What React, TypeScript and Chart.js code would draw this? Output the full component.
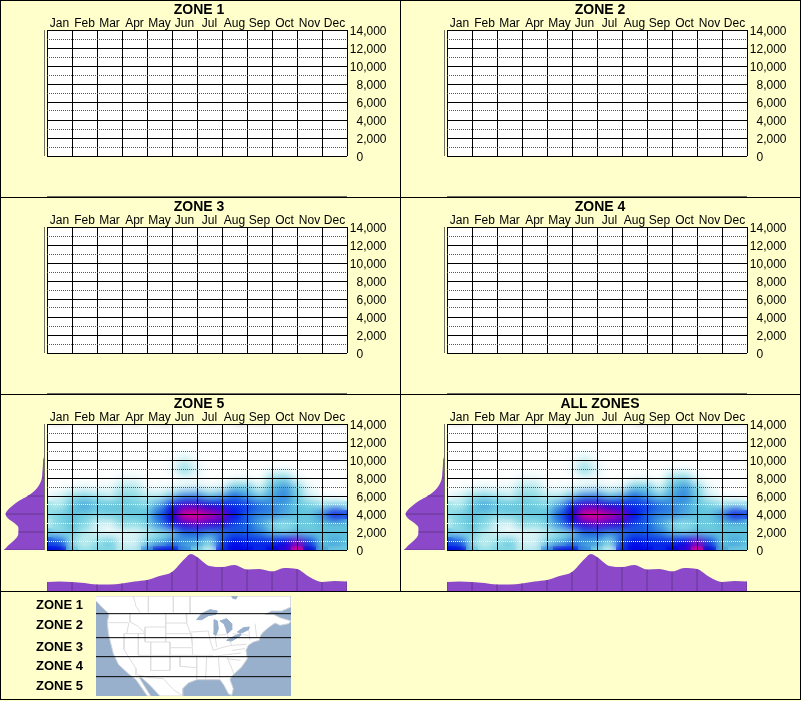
import React, { useEffect, useRef } from "react";
import { Chart, registerables } from "chart.js";

Chart.register(...registerables);

const months = ["Jan", "Feb", "Mar", "Apr", "May", "Jun", "Jul", "Aug", "Sep", "Oct", "Nov", "Dec"];
const zoneTitles = ["ZONE 1", "ZONE 2", "ZONE 3", "ZONE 4", "ZONE 5", "ALL ZONES"];
const mapLabels = ["ZONE 1", "ZONE 2", "ZONE 3", "ZONE 4", "ZONE 5"];
const elevationTicks = [0, 2000, 4000, 6000, 8000, 10000, 12000, 14000];

// density at half-month nodes (Jan 1 .. Dec 31), one row per 1000 ft
const d0 = [.68, .72, .35, .2, .25, .25, .15, .15, .45, .72, .68, .45, .25, .12, .6, .7, .68, .6, .72, .8, 1.2, .75, .4, .3, .3];
const d1000 = [.55, .5, .2, .12, .2, .3, .1, .1, .25, .35, .45, .4, .4, .25, .55, .65, .6, .6, .6, .65, .85, .55, .35, .4, .35];
const d2000 = [.3, .2, .3, .15, .08, .03, .06, .08, .12, .2, .25, .5, .5, .45, .45, .5, .5, .45, .35, .28, .35, .3, .35, .35, .35];
const d3000 = [.12, .25, .35, .25, .1, .08, .25, .2, .3, .45, .65, .8, .85, .8, .78, .55, .5, .4, .25, .2, .3, .3, .35, .35, .35];
const d4000 = [.2, .3, .35, .3, .25, .3, .3, .35, .35, .52, .76, 1.2, 1.25, 1.02, .9, .65, .5, .45, .45, .4, .35, .35, .45, .68, .55];
const d5000 = [.2, .15, .35, .4, .35, .35, .35, .3, .25, .4, .62, .8, .8, .75, .64, .58, .58, .5, .45, .4, .35, .3, .2, .25, .2];
const d6000 = [.03, .1, .2, .25, .18, .12, .25, .22, .15, .15, .3, .45, .45, .35, .4, .5, .4, .3, .4, .45, .3, .1, .03, 0, 0];
const d7000 = [0, 0, .03, .05, .03, .05, .15, .15, .03, .02, .05, .08, .1, .05, .08, .3, .3, .1, .35, .42, .25, .05, 0, 0, 0];
const d8000 = [0, 0, 0, 0, 0, 0, .05, .05, 0, 0, 0, .03, .02, 0, 0, .03, .03, 0, .2, .25, .05, 0, 0, 0, 0];
const d9000 = [0, 0, 0, 0, 0, 0, 0, 0, 0, 0, .05, .22, .08, 0, 0, 0, 0, 0, .03, .03, 0, 0, 0, 0, 0];
const d10000 = [0, 0, 0, 0, 0, 0, 0, 0, 0, 0, .02, .1, .02, 0, 0, 0, 0, 0, 0, 0, 0, 0, 0, 0, 0];
const densityRows = [d0, d1000, d2000, d3000, d4000, d5000, d6000, d7000, d8000, d9000, d10000];

// marginal distributions
const elevationSteps = [0, 500, 1000, 1500, 2000, 2500, 3000, 3500, 4000, 4500, 5000, 5500, 6000, 6500, 7000, 7500, 8000, 8500, 9000, 9500, 10000, 10500, 11000, 11500, 12000, 14000];
const elevationTotals = [40, 36, 31, 27, 26, 26, 30, 36, 38.5, 36, 31, 25, 17, 11, 7, 4.5, 3, 2.7, 2.3, 2, 1.7, .7, .2, 0, 0, 0];
const monthSteps = [0, .5, 1, 1.5, 2, 2.5, 3, 3.5, 4, 4.5, 5, 5.5, 5.75, 6, 6.5, 7, 7.5, 8, 8.5, 9, 9.5, 10, 10.5, 11, 11.5, 12];
const monthTotals = [9, 9.5, 9, 8, 6.5, 6.5, 7.5, 9.5, 11, 15, 19, 32, 37, 34, 25, 24, 26, 21.5, 22, 19.5, 23, 22, 14, 9, 10, 9.5];

// map outlines, in map units
const landX = [288, 873, 873, 845, 815, 795, 820, 840, 873, 866, 840, 825, 805, 790, 782, 778, 760, 745, 738, 742, 725, 695, 690, 700, 695, 685, 672, 660, 625, 590, 565, 548, 548, 480, 450, 425, 418, 435, 452, 442, 408, 385, 355, 340, 325, 322, 327, 305, 288];
const landY = [17, 17, 50, 62, 62, 72, 72, 82, 92, 100, 105, 98, 112, 125, 135, 150, 155, 165, 180, 205, 230, 258, 268, 295, 315, 310, 285, 268, 268, 268, 278, 295, 317, 317, 285, 262, 262, 290, 317, 317, 268, 250, 222, 190, 130, 95, 70, 50, 32];
const lakes: [number, number][][] = [
  [[590, 88], [605, 70], [630, 58], [652, 62], [648, 72], [625, 76], [605, 88]],
  [[642, 88], [652, 92], [655, 115], [648, 135], [640, 130], [642, 108]],
  [[660, 92], [680, 85], [695, 100], [695, 118], [682, 130], [678, 115], [672, 100]],
  [[680, 150], [705, 136], [722, 130], [720, 137], [695, 152]],
  [[712, 125], [730, 112], [748, 110], [745, 118], [725, 128]],
  [[695, 17], [712, 17], [708, 26], [698, 24]],
];
const borders: [number, number][][] = [
  [[400, 17], [408, 48], [420, 66]], [[445, 17], [445, 66]], [[520, 17], [520, 66]], [[570, 17], [570, 68]],
  [[325, 97], [385, 97]], [[390, 68], [390, 95], [415, 108], [435, 130]], [[387, 97], [380, 130]],
  [[497, 68], [497, 155]], [[497, 98], [560, 98]], [[497, 130], [575, 130]], [[558, 68], [560, 98], [572, 130], [578, 165]],
  [[435, 110], [497, 110]], [[435, 110], [435, 155]], [[435, 155], [510, 155]], [[452, 155], [452, 240]], [[510, 155], [510, 240]],
  [[372, 130], [435, 130]], [[372, 130], [372, 178], [408, 235], [408, 250]], [[415, 130], [415, 195]], [[415, 195], [510, 195]],
  [[510, 172], [575, 172]], [[575, 130], [578, 195]], [[510, 195], [640, 195]], [[540, 195], [540, 228], [590, 232]], [[590, 195], [590, 268]],
  [[405, 252], [450, 262], [490, 265], [520, 298], [547, 316]], [[452, 240], [510, 240]],
  [[572, 125], [625, 122]], [[625, 122], [630, 150], [640, 180]], [[645, 135], [650, 170]], [[650, 135], [680, 132]], [[682, 135], [695, 165], [665, 172], [640, 180]],
  [[625, 200], [722, 188]], [[620, 200], [617, 265]], [[655, 198], [660, 262]], [[682, 202], [702, 250]], [[680, 205], [722, 210]],
  [[695, 165], [740, 162]], [[698, 130], [745, 135]], [[745, 110], [750, 150]], [[765, 100], [770, 140]], [[695, 180], [735, 175]],
];
const zoneBoundaries = [70, 142, 199, 259];

const BG = "#FFFFCC";
const PURPLE = "#8B48C8";
const DROP = "#66368F";
const OCEAN = "#98B0CC";
const GRID_X = 47;

const colorStops: [number, number[]][] = [
  [0, [255, 255, 255]], [.08, [222, 244, 246]], [.2, [150, 225, 232]], [.35, [95, 195, 220]], [.5, [25, 100, 225]],
  [.65, [0, 10, 235]], [.75, [0, 0, 215]], [.87, [130, 0, 205]], [1.1, [255, 0, 140]],
];
function heatColor(v: number) {
  for (let i = 1; i < colorStops.length; i++) {
    const [b, cb] = colorStops[i];
    const [a, ca] = colorStops[i - 1];
    if (v <= b) {
      const t = (v - a) / (b - a);
      return `rgb(${ca.map((c, k) => Math.round(c + (cb[k] - c) * t)).join(",")})`;
    }
  }
  return "rgb(255,0,140)";
}

// one colour chip per density cell
function cellChip(v: number) {
  const chip = document.createElement("canvas");
  chip.width = 13;
  chip.height = 10;
  const g = chip.getContext("2d")!;
  g.fillStyle = heatColor(v);
  g.fillRect(0, 0, 13, 10);
  return chip;
}

const plotBackground = {
  id: "plotBackground",
  beforeDraw(chart: any) {
    const { ctx, chartArea: a } = chart;
    ctx.save();
    ctx.fillStyle = "#fff";
    ctx.fillRect(a.left, a.top, a.right - a.left, a.bottom - a.top);
    ctx.restore();
  },
};
// softens the drawn cells as one image, as the grid is drawn after them
const softCells = {
  id: "softCells",
  afterDatasetDraw(chart: any) {
    const { ctx, canvas, chartArea: a } = chart;
    const copy = document.createElement("canvas");
    copy.width = canvas.width;
    copy.height = canvas.height;
    copy.getContext("2d")!.drawImage(canvas, 0, 0);
    ctx.save();
    ctx.beginPath();
    ctx.rect(a.left, a.top, a.right - a.left, a.bottom - a.top);
    ctx.clip();
    ctx.filter = "blur(4.2px)";
    ctx.drawImage(copy, 0, 0);
    ctx.restore();
  },
};

function densityPoints() {
  const pts: { x: number; y: number; v: number }[] = [];
  densityRows.forEach((row, r) => row.forEach((v, c) => pts.push({ x: c / 2, y: r * 1000, v })));
  return pts;
}

function makeMain(canvas: HTMLCanvasElement, withData: boolean) {
  const pts = withData ? densityPoints() : [];
  return new Chart(canvas, {
    type: "scatter",
    data: {
      labels: months,
      datasets: withData
        ? [{
            data: pts,
            xAxisID: "xh",
            yAxisID: "y",
            pointStyle: pts.map((p) => cellChip(p.v)),
            pointRadius: 8,
            pointBorderWidth: 0,
          }]
        : [],
    } as any,
    options: {
      responsive: false,
      animation: false,
      layout: { padding: { left: GRID_X, right: 13.5, bottom: 41, top: 16.8 } },
      plugins: { legend: { display: false }, tooltip: { enabled: false } },
      scales: {
        x: {
          type: "category", position: "top", offset: true,
          afterFit: (s: any) => { s.height = 13.2; },
          grid: { color: "#000", lineWidth: 1, z: 1, drawTicks: false, offset: true },
          border: { display: false },
          ticks: { color: "#000", padding: -1, autoSkip: false, maxRotation: 0, font: { family: "'Liberation Sans'", size: 12 } },
        },
        xh: { type: "linear", display: false, min: 0, max: 12 },
        y: {
          type: "linear", position: "right", min: 0, max: 14000,
          afterFit: (s: any) => { s.width = 0; },
          grid: {
            z: 1, drawTicks: false, lineWidth: 1,
            color: (c: any) => {
              const v = c.tick.value;
              if (v % 2000 === 0) return "#000";
              return withData && v <= 5000 ? "#fff" : "#555";
            },
          },
          border: {
            display: false,
            dash: (c: any) => (c.tick.value % 2000 === 0 ? [] : [1, 1]),
          } as any,
          ticks: { stepSize: 1000, autoSkip: false, display: false },
        },
        // label axis: same spacing, its text sits 2px below the grid lines
        yl: {
          type: "linear", position: "right", min: 222.2, max: 14222.2,
          afterFit: (s: any) => { s.width = 39.5; },
          afterBuildTicks: (s: any) => { s.ticks = elevationTicks.map((value) => ({ value })); },
          grid: { display: false, drawTicks: false },
          border: { display: false },
          ticks: {
            autoSkip: false, padding: 0, color: "#000", crossAlign: "far",
            font: { family: "'Liberation Sans'", size: 12 },
            callback: (v: any) => (v === 0 ? "0\u00A0\u00A0\u00A0\u00A0\u00A0\u00A0\u00A0" : Number(v).toLocaleString("en-US")),
          },
        },
      },
    } as any,
    plugins: withData ? [plotBackground, softCells] : [plotBackground],
  });
}

function makeBottom(canvas: HTMLCanvasElement, withData: boolean) {
  const profile = monthSteps.map((x, i) => ({ x, y: withData ? monthTotals[i] : 0 }));
  const drops: any[] = [];
  monthSteps.forEach((x, i) => {
    if (Number.isInteger(x) && withData) drops.push({ x, y: 0 }, { x, y: monthTotals[i] }, { x, y: NaN });
  });
  const datasets: any[] = [
    { data: drops, borderColor: DROP, borderWidth: 1, pointRadius: 0, spanGaps: false },
  ];
  if (withData) {
    datasets.push({ data: profile, borderColor: PURPLE, borderWidth: 0, backgroundColor: PURPLE, fill: "origin", pointRadius: 0, cubicInterpolationMode: "monotone" });
  } else {
    datasets.push({ data: profile, borderColor: "#707060", borderWidth: 2, pointRadius: 0 });
  }
  return new Chart(canvas, {
    type: "line",
    data: { datasets },
    options: {
      responsive: false, animation: false,
      plugins: { legend: { display: false }, tooltip: { enabled: false } },
      scales: { x: { type: "linear", display: false, min: 0, max: 12 }, y: { type: "linear", display: false, min: 0, max: 40 } },
    } as any,
  });
}

function makeLeft(canvas: HTMLCanvasElement, withData: boolean) {
  const drops: any[] = [];
  if (withData) {
    elevationSteps.forEach((y, i) => {
      if (y % 2000 === 0 && elevationTotals[i] > 0) drops.push({ x: 0, y }, { x: elevationTotals[i], y }, { x: NaN, y });
    });
  }
  const datasets: any[] = [
    { data: [{ x: 0, y: 0 }, { x: 0, y: 14000 }], borderColor: "#707060", borderWidth: 2, pointRadius: 0 },
    { data: drops, borderColor: DROP, borderWidth: 1, pointRadius: 0, spanGaps: false },
  ];
  if (withData) {
    datasets.push({
      data: elevationSteps.map((y, i) => ({ x: elevationTotals[i], y })),
      borderColor: PURPLE, borderWidth: 0, backgroundColor: PURPLE, fill: "origin", pointRadius: 0, cubicInterpolationMode: "monotone",
    });
  }
  return new Chart(canvas, {
    type: "line",
    data: { datasets },
    options: {
      indexAxis: "y", responsive: false, animation: false,
      plugins: { legend: { display: false }, tooltip: { enabled: false } },
      scales: { x: { type: "linear", display: false, reverse: true, min: 0, max: 44 }, y: { type: "linear", display: false, min: 0, max: 14000 } },
    } as any,
  });
}

function makeMap(canvas: HTMLCanvasElement) {
  const poly = (pts: [number, number][]) => pts.map(([x, y]) => ({ x, y }));
  const borderPts: any[] = [];
  borders.forEach((seg) => { poly(seg).forEach((p) => borderPts.push(p)); borderPts.push({ x: NaN, y: NaN }); });
  const zonePts: any[] = [];
  zoneBoundaries.forEach((y) => zonePts.push({ x: 288, y }, { x: 873, y }, { x: NaN, y: NaN }));
  const datasets: any[] = [
    { data: zonePts, borderColor: "#000", borderWidth: 1, pointRadius: 0, showLine: true, spanGaps: false },
    ...lakes.map((l) => ({ data: poly([...l, l[0]]), showLine: true, borderColor: OCEAN, borderWidth: 1, backgroundColor: OCEAN, fill: "shape", pointRadius: 0 })),
    { data: borderPts, borderColor: "#DEDEDE", borderWidth: 1, pointRadius: 0, showLine: true, spanGaps: false },
    { data: landX.map((x, i) => ({ x, y: landY[i] })), showLine: true, borderColor: "#D0D4DA", borderWidth: 1, backgroundColor: "#fff", fill: "shape", pointRadius: 0 },
  ];
  return new Chart(canvas, {
    type: "scatter",
    data: { datasets },
    options: {
      responsive: false, animation: false,
      plugins: { legend: { display: false }, tooltip: { enabled: false } },
      scales: { x: { type: "linear", display: false, min: 288, max: 873 }, y: { type: "linear", display: false, reverse: true, min: 17, max: 317 } },
    } as any,
    plugins: [{
      id: "ocean",
      beforeDraw(chart: any) {
        const { ctx, chartArea: a } = chart;
        ctx.save();
        ctx.fillStyle = OCEAN;
        ctx.fillRect(a.left, a.top, a.right - a.left, a.bottom - a.top);
        ctx.restore();
      },
    }],
  });
}

const line = (left: number, top: number, width: number, height: number): React.CSSProperties => ({
  position: "absolute", left, top, width, height, background: "#000",
});
const mapLabelTops = [605, 625, 647, 666, 686];

export default function App() {
  const host = useRef<HTMLDivElement>(null);
  useEffect(() => {
    const charts: Chart[] = [];
    const c = (id: string) => host.current!.querySelector(`[data-c="${id}"]`) as HTMLCanvasElement;
    zoneTitles.forEach((t, i) => {
      const hasData = i >= 4;
      charts.push(makeMain(c(`m${i}`), hasData));
      charts.push(makeBottom(c(`b${i}`), hasData));
      charts.push(makeLeft(c(`l${i}`), hasData));
    });
    charts.push(makeMap(c("map")));
    return () => charts.forEach((ch) => ch.destroy());
  }, []);

  return (
    <div ref={host} style={{ position: "absolute", left: 0, top: 0, width: 801, height: 701, background: BG, overflow: "hidden", fontFamily: "'Liberation Sans'" }}>
      {zoneTitles.map((t, i) => {
        const px = i % 2 === 0 ? 0 : 400;
        const py = Math.floor(i / 2) * 197;
        return (
          <React.Fragment key={t}>
            <canvas data-c={`m${i}`} width={400} height={197} style={{ position: "absolute", left: px, top: py }} />
            <canvas data-c={`b${i}`} width={300} height={40} style={{ position: "absolute", left: px + 47, top: py + 157 }} />
            <canvas data-c={`l${i}`} width={45} height={126} style={{ position: "absolute", left: px, top: py + 30 }} />
            <div style={{ position: "absolute", left: i % 2 === 0 ? px - 1 : px, top: py + 1, width: 400, height: 16, lineHeight: "16px", textAlign: "center", fontSize: 14, fontWeight: "bold", color: "#000" }}>{t}</div>
          </React.Fragment>
        );
      })}
      <canvas data-c="map" width={195} height={100} style={{ position: "absolute", left: 96, top: 596 }} />
      {mapLabels.map((t, i) => (
        <div key={i} style={{ position: "absolute", left: 36, top: mapLabelTops[i] - 8, height: 16, lineHeight: "16px", fontSize: 13, fontWeight: "bold", color: "#000" }}>{t}</div>
      ))}
      <div style={line(0, 0, 801, 1)} />
      <div style={line(0, 0, 1, 700)} />
      <div style={line(800, 0, 1, 700)} />
      <div style={line(400, 0, 1, 591)} />
      <div style={line(0, 197, 801, 1)} />
      <div style={line(0, 394, 801, 1)} />
      <div style={line(0, 591, 801, 1)} />
      <div style={line(0, 699, 801, 1)} />
    </div>
  );
}
